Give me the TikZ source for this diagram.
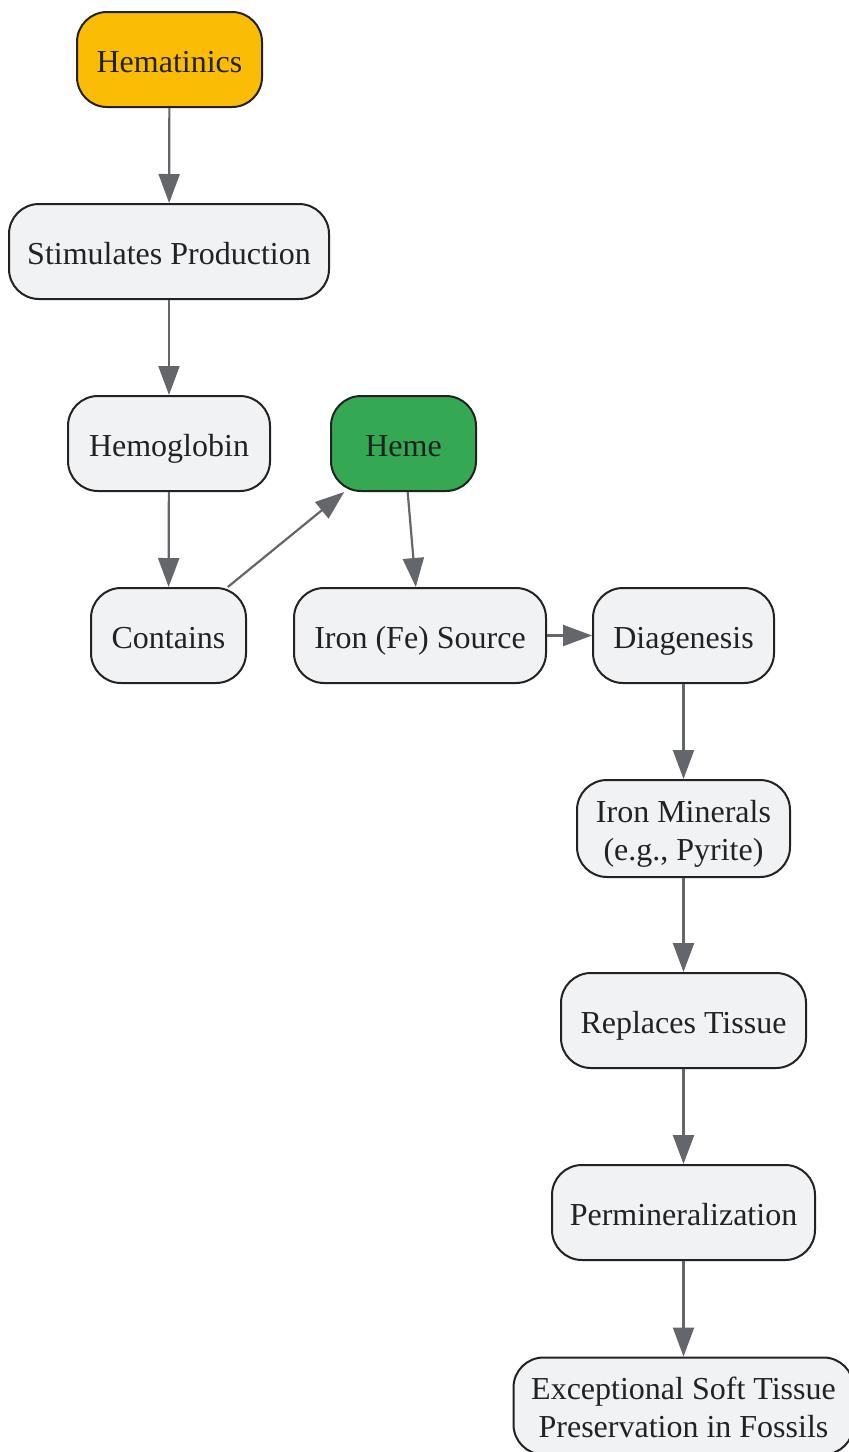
\documentclass[tikz,border=0pt]{standalone}
\usepackage{fontspec}
\setmainfont{Liberation Serif}
\usetikzlibrary{arrows.meta}
\definecolor{boxfill}{HTML}{F1F2F4}
\definecolor{boxline}{HTML}{222222}
\definecolor{arrowgray}{HTML}{63666A}
\definecolor{hemayellow}{HTML}{FBBC05}
\definecolor{hemegreen}{HTML}{34A853}

\begin{document}
\begin{tikzpicture}[x=1pt,y=-1pt,
  box/.style={draw=boxline, line width=2pt, fill=boxfill, rounded corners=30pt,
    minimum height=95pt, inner ysep=12pt, text height=30pt, text depth=5pt,
    align=center, text=boxline, font=\fontsize{32}{38}\selectfont},
  twoline/.style={text height=68pt},
  flow/.style={draw=arrowgray, line width=2.2pt, -{Triangle[length=29pt,width=21pt]}}]
\useasboundingbox (0,0) rectangle (849,1452);

% left column
\node[box, fill=hemayellow, minimum width=185pt] (hematinics) at (169.5,59.5) {Hematinics};
\node[box, minimum width=320pt] (stimulates) at (169,251.5) {Stimulates Production};
\node[box, minimum width=202pt] (hemoglobin) at (169,443.5) {Hemoglobin};
\node[box, minimum width=155pt] (contains) at (168.5,635.5) {Contains};

% middle
\node[box, fill=hemegreen, minimum width=145pt] (heme) at (403.5,443.5) {Heme};
\node[box, minimum width=252pt] (ironsource) at (420,635.5) {Iron (Fe) Source};

% right column
\node[box, minimum width=181pt] (diagenesis) at (683.5,635.5) {Diagenesis};
\node[box, twoline, minimum width=213pt] (minerals) at (683.5,828.5) {Iron Minerals\\(e.g., Pyrite)};
\node[box, minimum width=245pt] (replaces) at (683.5,1020.5) {Replaces Tissue};
\node[box, minimum width=263pt] (permin) at (683.5,1212.5) {Permineralization};
\node[box, twoline, minimum width=340pt] (preservation) at (683.5,1406) {Exceptional Soft Tissue\\Preservation in Fossils};

\draw[flow] (hematinics) -- (stimulates);
\draw[flow] (stimulates) -- (hemoglobin);
\draw[flow] (hemoglobin) -- (contains);
\draw[flow] (contains) -- (heme);
\draw[flow] (heme) -- (ironsource);
\draw[flow] (ironsource) -- (diagenesis);
\draw[flow] (diagenesis) -- (minerals);
\draw[flow] (minerals) -- (replaces);
\draw[flow] (replaces) -- (permin);
\draw[flow] (permin) -- (preservation);

\end{tikzpicture}
\end{document}
